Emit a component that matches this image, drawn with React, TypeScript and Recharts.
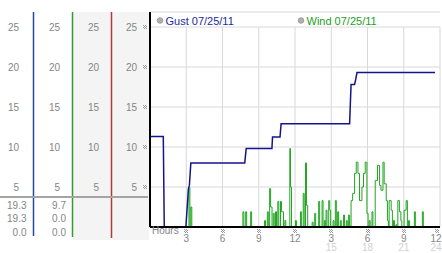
import React from 'react';
import { LineChart, Line, XAxis, YAxis, CartesianGrid, ReferenceLine } from 'recharts';

const W = 442;
const H = 253;

const yTicks = [5, 10, 15, 20, 25];
const xTicks = [3, 6, 9, 12, 15, 18, 21, 24];
const xTickLabels = ['3', '6', '9', '12', '3', '6', '9', '12'];
const xTickLabels2 = ['', '', '', '', '15', '18', '21', '24'];

const legendNames = ['Gust 07/25/11', 'Wind 07/25/11'];
const gustReadout = ['19.3', '19.3', '0.0'];
const windReadout = ['9.7', '0.0', '0.0'];

const gustHours = [0, 1.1, 1.18, 2.97, 3.18, 3.26, 3.38, 7.84, 7.96, 10.09, 10.14, 10.76, 10.85, 16.52, 16.58, 16.64, 16.93, 17.03, 17.13, 23.59];
const gustValues = [11.3, 11.3, 0, 0, 4.8, 5.2, 8.0, 8.0, 9.8, 9.8, 11.25, 11.25, 12.9, 12.9, 15.4, 17.8, 17.8, 18.5, 19.3, 19.3];

const windHours = [
  0, 3.22, 3.3, 3.38, 3.46, 7.69, 7.77, 7.92, 8.0, 8.33, 8.41,
  9.48, 9.56, 9.71, 9.79, 9.9, 9.98, 10.1, 10.2, 10.28, 10.39, 10.47,
  10.58, 10.66, 10.8, 10.88, 11.05, 11.16, 11.24, 11.57, 11.63, 11.71,
  12.04, 12.12, 12.45, 12.53, 12.68, 12.76, 12.87, 12.95, 13.05,
  13.42, 13.5, 13.63, 13.71, 13.96, 14.04, 14.24, 14.32, 14.43, 14.51,
  14.57, 14.65, 14.79, 14.87, 14.95, 15.15, 15.23, 15.34, 15.42, 15.53, 15.61,
  15.75, 15.83, 16.02, 16.1, 16.25, 16.33, 16.44, 16.52,
  16.64, 16.77, 16.93, 17.07, 17.21, 17.34, 17.54, 17.67, 17.81, 17.95, 18.05,
  18.14, 18.22, 18.37, 18.45, 18.64, 18.83, 19.0, 19.11, 19.28, 19.38, 19.55, 19.65, 19.73,
  19.79, 19.96, 20.06, 20.15, 20.23, 20.35, 20.43, 20.51, 20.64, 20.76, 20.84,
  21.03, 21.2, 21.3, 21.39, 21.47, 21.88, 21.96, 22.54, 22.62, 23.6,
];
const windValues = [
  0, 4.9, 0, 2.5, 0, 1.9, 0, 1.9, 0, 1.9, 0,
  0.8, 0, 1.9, 0, 4.8, 2.5, 0, 1.7, 0, 1.9, 0,
  3.2, 0, 3.2, 1.9, 0, 0.8, 0, 9.8, 5.0, 0,
  0.8, 0, 1.9, 0, 4.2, 0, 8.0, 2.7, 0,
  0.6, 0, 1.7, 0, 3.2, 0, 3.3, 0, 0.8, 0,
  2.1, 0, 3.3, 2.1, 0, 0.8, 0, 3.3, 0, 1.9, 0,
  0.8, 0, 1.5, 0, 0.8, 0, 1.5, 0,
  3.3, 4.2, 6.7, 8.1, 6.7, 3.3, 5.0, 6.7, 8.1, 1.7, 0,
  0.8, 0, 1.9, 0, 5.8, 7.7, 5.2, 4.6, 8.1, 5.4, 3.3, 0.8, 0,
  3.3, 2.1, 0, 0.8, 0, 0.3, 0, 3.3, 1.9, 0.8, 0,
  2.1, 3.3, 0, 0.8, 0, 1.9, 0, 1.9, 0, 0,
];

const gustData = gustHours.map((h, i) => ({ h, v: gustValues[i] }));
const windData = windHours.map((h, i) => ({ h, v: windValues[i] }));

const FONT = '"Liberation Sans", Arial, sans-serif';
const TICK_GRAY = '#858585';
const GUST = '#14148c';
const WIND = '#22a622';

// right edges of the four label columns, measured from the main axis line
const yLabelOffsets = [13, 51, 90, 131];

const Checker = ({ cx, cy }: { cx: number; cy: number }) => {
  const cells: React.ReactNode[] = [];
  for (let i = 0; i < 4; i++) {
    for (let j = 0; j < 4; j++) {
      if ((i + j) % 2 === 0) {
        cells.push(<rect key={i * 4 + j} x={cx - 2 + i} y={cy - 2 + j} width={1} height={1} fill="#9a9a9a" />);
      }
    }
  }
  return <g>{cells}</g>;
};

const YTick = (props: any) => {
  const { x, y, payload } = props;
  return (
    <g>
      {yLabelOffsets.map((o) => (
        <text key={o} x={x - o} y={y + 3.5} textAnchor="end" fontFamily={FONT} fontSize={10} fill={TICK_GRAY}>
          {payload.value}
        </text>
      ))}
      <Checker cx={Math.round(x - 5)} cy={Math.round(y)} />
    </g>
  );
};

const XTick = (props: any) => {
  const { x, y, payload } = props;
  const i = xTicks.indexOf(payload.value);
  const last = payload.value === 24;
  const tx = last ? x - 4 : x;
  return (
    <g>
      <Checker cx={Math.round(last ? x - 3 : x)} cy={Math.round(y + 4)} />
      <text x={tx} y={y + 14.5} textAnchor="middle" fontFamily={FONT} fontSize={10} fill={TICK_GRAY}>
        {xTickLabels[i]}
      </text>
      {xTickLabels2[i] && (
        <text x={tx} y={y + 24} textAnchor="middle" fontFamily={FONT} fontSize={10} fill="#d0d0d0">
          {xTickLabels2[i]}
        </text>
      )}
    </g>
  );
};

const Y_DOMAIN: [number, number] = [0, 26.875];

export default function App() {
  return (
    <div style={{ position: 'absolute', left: 0, top: 0, width: W, height: H, background: '#fff' }}>
      <svg width={W} height={H} style={{ position: 'absolute', left: 0, top: 0 }}>
        <rect x={73} y={12} width={38} height={228} fill="#f4f4f4" />
        <rect x={112} y={12} width={37} height={228} fill="#f4f4f4" />
      </svg>
      <div style={{ position: 'absolute', left: 0, top: 0 }}>
        <LineChart width={W} height={H} margin={{ top: 12, right: 2, bottom: 0, left: 0 }}>
          <CartesianGrid vertical={false} stroke="#d8d8d8" strokeWidth={1} />
          {xTicks.map((t) => (
            <ReferenceLine
              key={t}
              segment={[{ x: t, y: 0 }, { x: t, y: 25 }]}
              stroke="#d8d8d8"
              strokeWidth={1}
            />
          ))}
          <XAxis
            dataKey="h"
            type="number"
            domain={[0, 24]}
            ticks={xTicks}
            interval={0}
            allowDataOverflow
            height={26}
            tickSize={0}
            tickMargin={0}
            tickLine={false}
            axisLine={{ stroke: '#000', strokeWidth: 2 }}
            tick={XTick}
          />
          <YAxis
            type="number"
            domain={Y_DOMAIN}
            ticks={yTicks}
            interval={0}
            allowDataOverflow
            width={150}
            tickSize={0}
            tickMargin={0}
            tickLine={false}
            axisLine={{ stroke: '#000', strokeWidth: 2 }}
            tick={YTick}
          />
          <Line
            data={windData}
            dataKey="v"
            type="stepAfter"
            stroke={WIND}
            strokeWidth={1}
            dot={false}
            isAnimationActive={false}
          />
          <Line
            data={gustData}
            dataKey="v"
            type="linear"
            stroke={GUST}
            strokeWidth={1.5}
            dot={false}
            isAnimationActive={false}
          />
        </LineChart>
      </div>
      <svg width={W} height={H} style={{ position: 'absolute', left: 0, top: 0, pointerEvents: 'none' }}>
        <line x1={33.5} y1={12} x2={33.5} y2={236} stroke="#2446a0" strokeWidth={1.5} />
        <line x1={72.5} y1={12} x2={72.5} y2={237} stroke="#2e9e2e" strokeWidth={1.5} />
        <line x1={111.5} y1={12} x2={111.5} y2={238} stroke="#b03a3a" strokeWidth={1.5} />
        <line x1={0} y1={197} x2={148} y2={197} stroke="#a4a4a4" strokeWidth={2} />
        {gustReadout.map((t, i) => (
          <text key={'g' + i} x={26.5} y={208.5 + i * 13.5} textAnchor="end" fontFamily={FONT} fontSize={10} fill={TICK_GRAY}>
            {t}
          </text>
        ))}
        {windReadout.map((t, i) => (
          <text key={'w' + i} x={66} y={208.5 + i * 13.5} textAnchor="end" fontFamily={FONT} fontSize={10} fill={TICK_GRAY}>
            {t}
          </text>
        ))}
        <text x={152} y={234} fontFamily={FONT} fontSize={10} fill={TICK_GRAY}>Hours</text>
        <circle cx={160} cy={20.5} r={2.8} fill="#b0b0b0" stroke="#909090" strokeWidth={0.8} />
        <text x={165.5} y={24.5} fontFamily={FONT} fontSize={11} fill="#1c2aa0">{legendNames[0]}</text>
        <circle cx={301} cy={20.5} r={2.8} fill="#b0b0b0" stroke="#909090" strokeWidth={0.8} />
        <text x={306.5} y={24.5} fontFamily={FONT} fontSize={11} fill="#22a022">{legendNames[1]}</text>
      </svg>
    </div>
  );
}
